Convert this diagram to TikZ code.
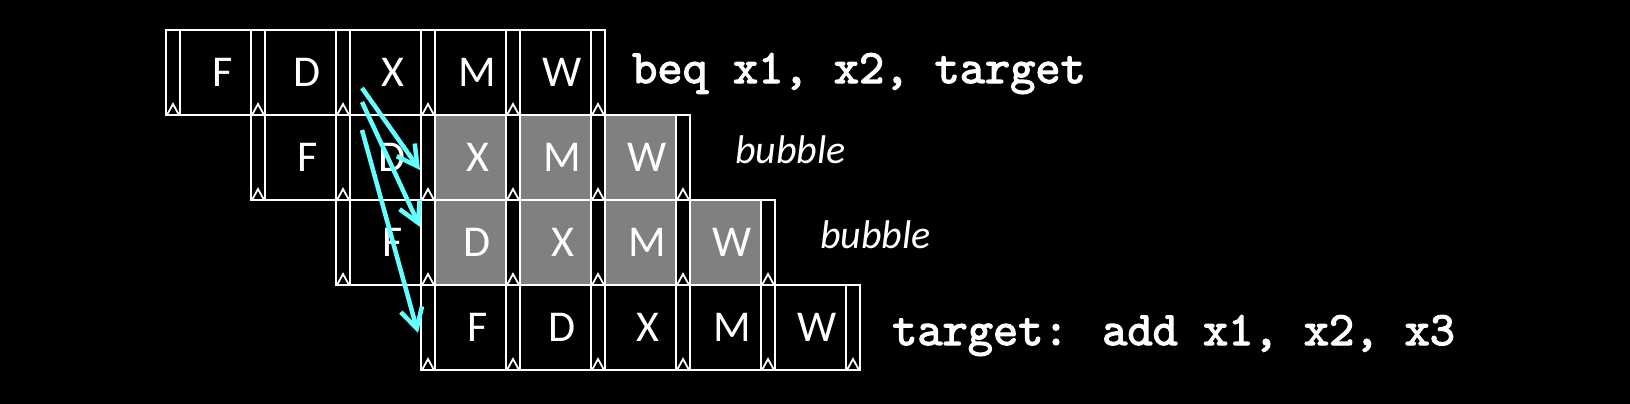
\documentclass[tikz,border=0pt]{standalone}
\usepackage{fontspec}
\newfontfamily\calibri{Carlito}
\newfontfamily\courfont[FakeBold=2.5]{lmmono10-regular.otf}
\usetikzlibrary{arrows.meta,calc}
\definecolor{cyanarrow}{HTML}{66FFFF}
\definecolor{bubblegray}{HTML}{808080}
\begin{document}
\begin{tikzpicture}[x=1pt,y=-1pt,
  box/.style={draw=white,line width=2pt,inner sep=0pt,minimum height=85pt,text=white,font=\calibri\fontsize{44}{50}\selectfont},
  regbox/.style={box,fill=black,minimum width=14pt},
  stagebox/.style={box,fill=black,minimum width=71pt},
  clk/.style={draw=white,line width=1.8pt},
  note/.style={text=white,inner sep=0pt,anchor=base west},
  code/.style={note,font=\courfont\fontsize{48}{54}\selectfont},
  bubtext/.style={note,font=\calibri\itshape\fontsize{40}{46}\selectfont},
  fwd/.style={draw=cyanarrow,line width=4.5pt,-{Straight Barb[length=20pt,width=22pt]}}
]
\fill[black] (0,0) rectangle (1630,404);
\useasboundingbox (0,0) rectangle (1630,404);

\foreach \i/\g in {0/5,1/2,2/1,3/5} {
  \foreach \L [count=\n from 0] in {F,D,X,M,W} {
    \pgfmathsetmacro\sx{166+85*\i+85*\n+49.5}
    \pgfmathsetmacro\yy{30+85*\i+42.5}
    \ifnum\n<\g \def\fc{black}\else\def\fc{bubblegray}\fi
    \node[stagebox,fill=\fc] (s\i\L) at (\sx,\yy) {\hspace*{14pt}\L};
  }
  \foreach \n in {0,...,5} {
    \pgfmathsetmacro\rx{166+85*\i+85*\n+7}
    \pgfmathsetmacro\yy{30+85*\i+42.5}
    \node[regbox] (r\i\n) at (\rx,\yy) {};
    \draw[clk] ($(r\i\n.south west)+(2pt,1pt)$) -- ($(r\i\n.south)+(0pt,12pt)$) -- ($(r\i\n.south east)+(-2pt,1pt)$);
  }
}

\node[code] (t0) at (632,83) {beq x1, x2, target};
\node[bubtext] (t1) at (735,163) {bubble};
\node[bubtext] (t2) at (820,248) {bubble};
\node[code] (t3) at (892,345) {target: add x1, x2, x3};

\coordinate (a1) at ($(s0X.center)+(-23.5pt,-15.5pt)$);
\coordinate (a2) at ($(s0X.center)+(-23.5pt,-29.5pt)$);
\coordinate (a3) at ($(s0X.center)+(-23.5pt,-57.5pt)$);
\coordinate (b1) at ($(r12.west)+(0pt,-12.5pt)$);
\coordinate (b2) at ($(r21.west)+(0pt,15.5pt)$);
\coordinate (b3) at ($(r30.west)+(-2pt,-5.5pt)$);
\draw[fwd] (a1) -- (b1);
\draw[fwd] (a2) -- (b2);
\draw[fwd] (a3) -- (b3);
\end{tikzpicture}
\end{document}
